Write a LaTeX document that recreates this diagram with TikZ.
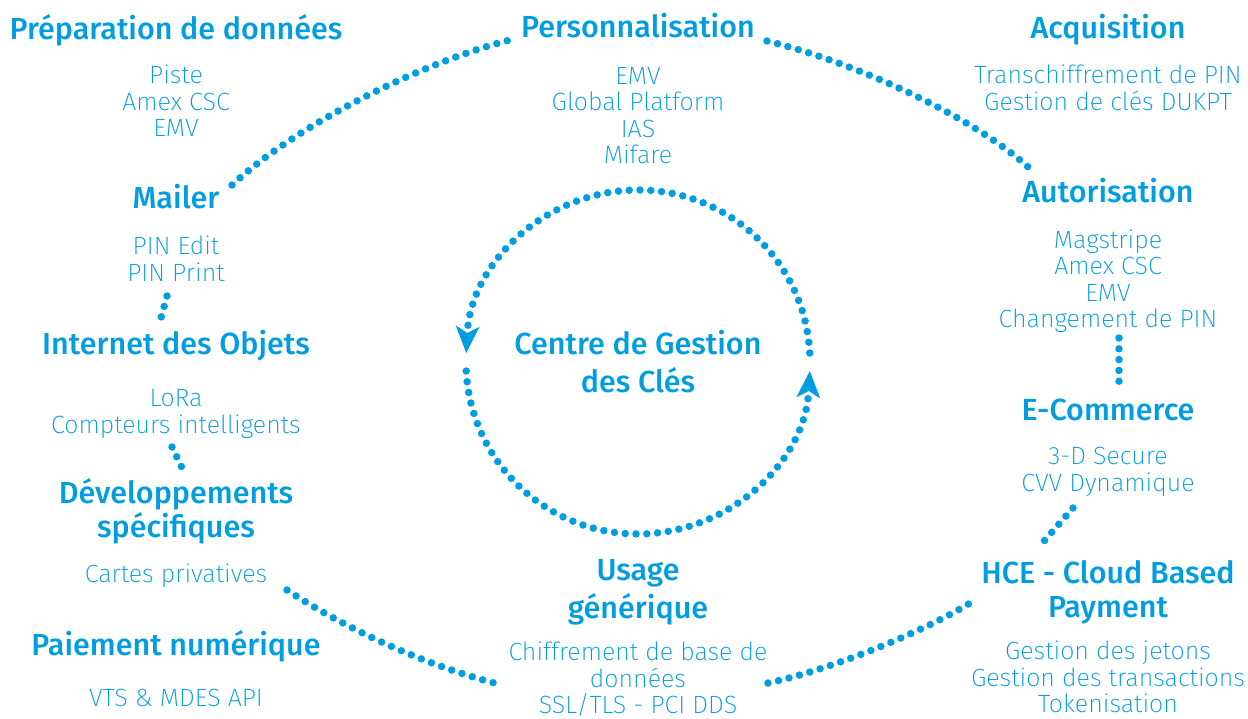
\documentclass[tikz,border=0pt]{standalone}
\usepackage{fontspec}
\setmainfont{Fira Sans ExtraLight}
\newfontfamily\titrefont{Fira Sans Medium}
\usepackage{tikz}
\usetikzlibrary{arrows.meta, positioning}
\definecolor{cleblue}{RGB}{0,158,224}

\begin{document}
\begin{tikzpicture}[x=1pt, y=-1pt,
    titre/.style={text=cleblue, font={\titrefont\fontsize{30.5}{34}\selectfont}, align=center, inner sep=0pt},
    grandtitre/.style={titre, font={\titrefont\fontsize{30.5}{38}\selectfont}},
    detail/.style={text=cleblue, font={\fontsize{25}{26.5}\selectfont}, align=center, inner sep=0pt},
    pointille/.style={draw=cleblue, line width=7.5pt, line cap=round, dash pattern=on 0pt off 10.8pt},
    fleche/.style={-{Stealth[length=27pt, width=24pt, inset=7pt, line width=0pt]}}]
    \useasboundingbox (0,0) rectangle (1248,718);

    % colonne de gauche
    \node (prep) [titre] at (176,30) {Préparation de données};
    \node (prepdet) [detail] at (176,101) {Piste\\Amex CSC\\EMV};
    \node (mailer) [titre] at (176,197) {Mailer};
    \node (mailerdet) [detail] at (176,259) {PIN Edit\\PIN Print};
    \node (iot) [titre] at (176,346) {Internet des Objets};
    \node (iotdet) [detail] at (176,414) {LoRa\\Compteurs intelligents};
    \node (dev) [titre] at (176,511) {Développements\\spécifiques};
    \node (devdet) [detail] at (176,576) {Cartes privatives};
    \node (paiement) [titre] at (176,646) {Paiement numérique};
    \node (paiementdet) [detail] at (176,698) {VTS \& MDES API};

    % colonne du milieu
    \node (perso) [titre] at (638,26) {Personnalisation};
    \node (persodet) [detail] at (638,115.5) {EMV\\Global Platform\\IAS\\Mifare};
    \node (cgc) [grandtitre] at (638,362) {Centre de Gestion\\des Clés};
    \node (usage) [grandtitre] at (638,592) {Usage\\générique};
    \node (usagedet) [detail] at (638,679) {Chiffrement de base de\\données\\SSL/TLS - PCI DDS};

    % colonne de droite
    \node (acq) [titre] at (1108,30) {Acquisition};
    \node (acqdet) [detail] at (1108,88) {Transchiffrement de PIN\\Gestion de clés DUKPT};
    \node (auto) [titre] at (1108,191) {Autorisation};
    \node (autodet) [detail] at (1108,281) {Magstripe\\Amex CSC\\EMV\\Changement de PIN};
    \node (ecom) [titre] at (1108,410) {E-Commerce};
    \node (ecomdet) [detail] at (1108,472) {3-D Secure\\CVV Dynamique};
    \node (hce) [titre] at (1108,592) {HCE - Cloud Based\\Payment};
    \node (hcedet) [detail] at (1108,677) {Gestion des jetons\\Gestion des transactions\\Tokenisation};

    % liens en pointillés
    \draw[pointille] ([shift={(56,-12)}]mailer.center) .. controls +(70,-65) and +(-80,20) .. ([shift={(-128,14)}]perso.center);
    \draw[pointille] ([shift={(129,15)}]perso.center) .. controls +(90,22) and +(-55,-50) .. ([shift={(-80,-24)}]auto.center);
    \draw[pointille] ([shift={(-9,37)}]mailerdet.center) -- ([shift={(-15,-28)}]iot.center);
    \draw[pointille] ([shift={(-4,33)}]iotdet.center) -- ([shift={(10,-35)}]dev.center);
    \draw[pointille] ([shift={(111,14)}]devdet.center) .. controls +(60,40) and +(-70,-18) .. ([shift={(-140,5)}]usagedet.center);
    \draw[pointille] ([shift={(130,4)}]usagedet.center) .. controls +(70,-15) and +(-40,25) .. ([shift={(-138,11)}]hce.center);
    \draw[pointille] ([shift={(-35,36)}]ecomdet.center) -- ([shift={(-70,-44)}]hce.center);
    \draw[pointille] ([shift={(11,57)}]autodet.center) -- ([shift={(11,-27)}]ecom.center);

    % cercle autour du centre
    \draw[pointille, fleche] (cgc.center) ++(-3:172) arc[start angle=-3, end angle=-177, radius=172];
    \draw[pointille, fleche] (cgc.center) ++(177:172) arc[start angle=177, end angle=3, radius=172];
\end{tikzpicture}
\end{document}
